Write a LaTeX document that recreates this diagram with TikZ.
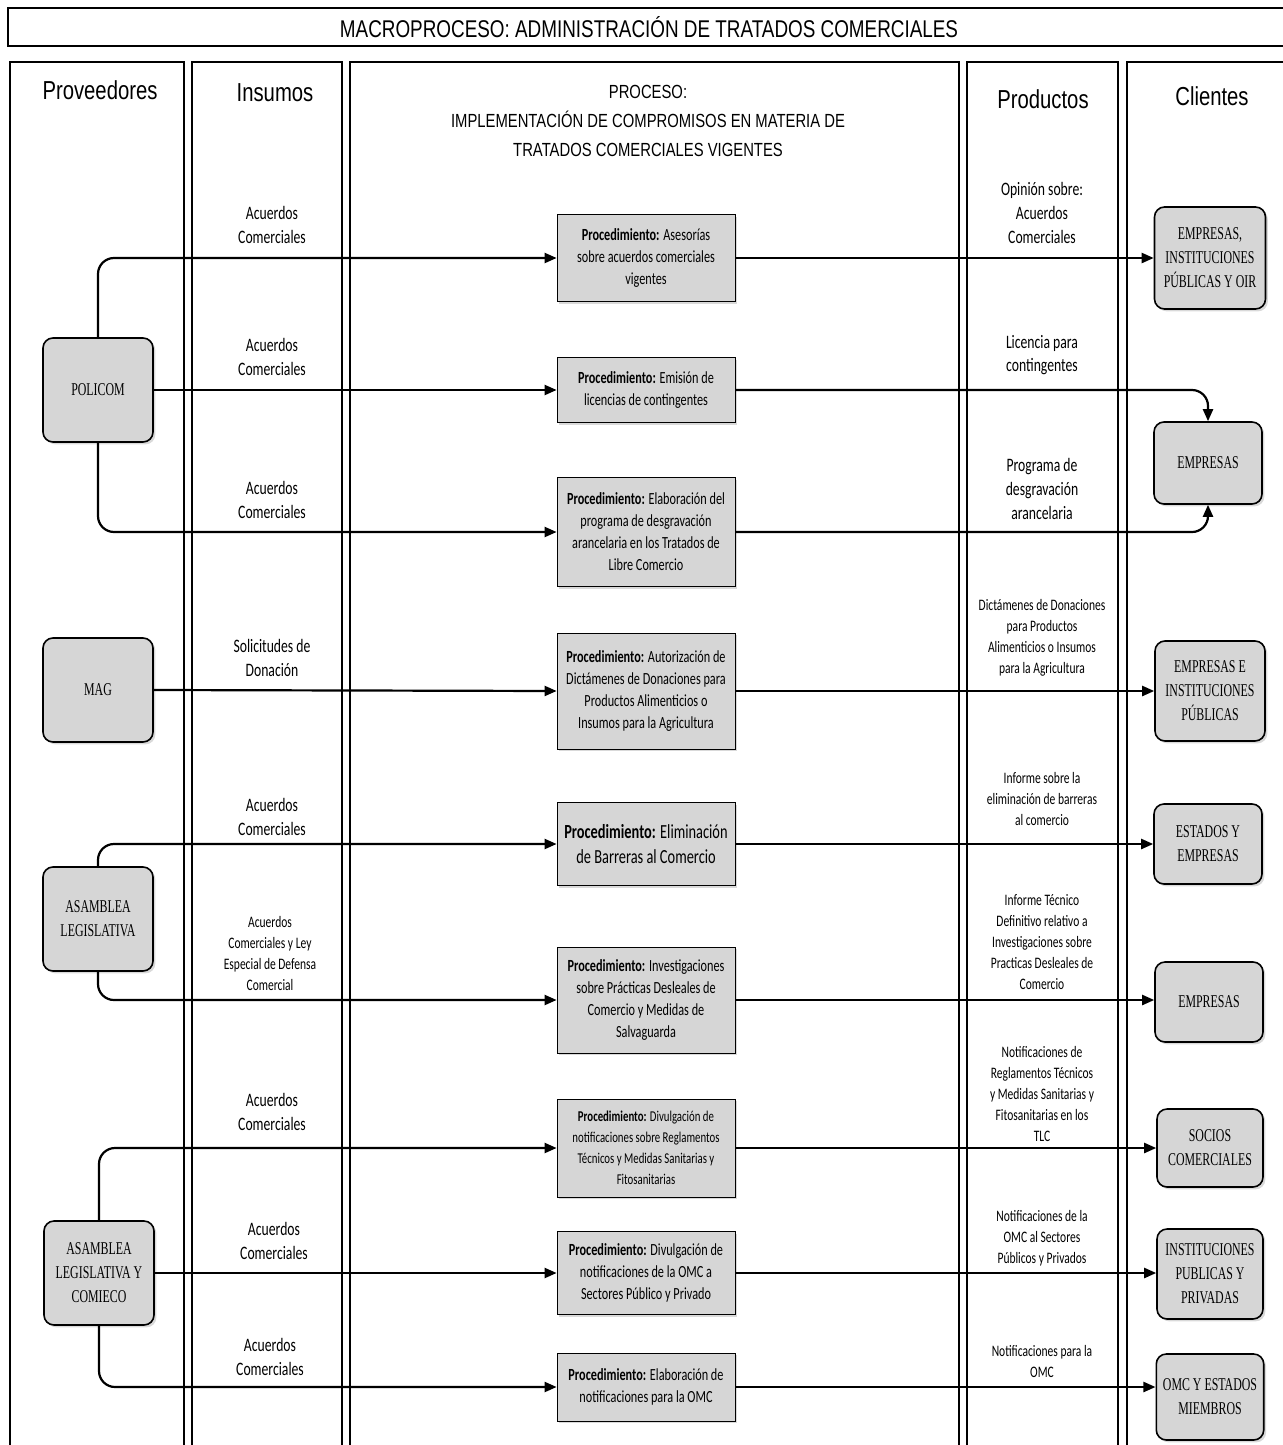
\documentclass[tikz,border=0pt]{standalone}
\usepackage{fontspec}
\usetikzlibrary{arrows.meta, positioning, shadows}
\newfontfamily\headfont[FakeStretch=0.78]{Liberation Sans}
\newfontfamily\lblfont[FakeStretch=0.72]{Carlito}
\newfontfamily\capfont[FakeStretch=0.66]{Liberation Serif}
\definecolor{BoxGray}{HTML}{D6D6D6}

\begin{document}
\begin{tikzpicture}[x=0.5pt, y=-0.5pt,
    lane/.style={line width=1pt},
    shade/.style={drop shadow={shadow xshift=1.2pt, shadow yshift=-1.2pt, opacity=0.3}},
    prov/.style={draw, thick, rounded corners=5pt, fill=BoxGray, shade,
        minimum width=55pt, minimum height=52pt, align=center,
        font=\capfont\fontsize{9}{12}\selectfont},
    proc/.style={draw, fill=BoxGray, shade, minimum width=89pt, inner sep=2pt,
        align=center, font=\lblfont\fontsize{8.5}{11}\selectfont},
    cli/.style={prov, minimum width=54pt, minimum height=41pt},
    lbl/.style={align=center, font=\lblfont\fontsize{9.5}{11.8}\selectfont},
    small/.style={align=center, font=\lblfont\fontsize{8}{10.5}\selectfont},
    head/.style={font=\headfont\fontsize{13}{15}\selectfont},
    arr/.style={-{Triangle[length=6pt, width=5pt]}, line width=1.1pt}
]
\useasboundingbox (0,0) rectangle (1282,1445);

% title and swim lanes
\node[draw, line width=1pt, minimum width=641pt, minimum height=19pt,
    font=\headfont\fontsize{12.1}{15}\selectfont] (title) at (649,27)
    {MACROPROCESO: ADMINISTRACIÓN DE TRATADOS COMERCIALES};
\foreach \l/\r in {10/184, 192/342, 350/959, 967/1118, 1127/1292}
    \draw[lane] (\l,1450) |- (\r,62) -- (\r,1450);

\node[head] (hprov) at (100,90) {Proveedores};
\node[head] (hins) at (275,93) {Insumos};
\node[align=center, font=\headfont\fontsize{9.5}{14.5}\selectfont] (hproc) at (648,121)
    {PROCESO:\\IMPLEMENTACIÓN DE COMPROMISOS EN MATERIA DE\\TRATADOS COMERCIALES VIGENTES};
\node[head] (hprod) at (1043,99) {Productos};
\node[head] (hcli) at (1212,96) {Clientes};

% proveedores
\node[prov] (policom) at (98,390) {POLICOM};
\node[prov] (mag) at (98,690) {MAG};
\node[prov] (asamblea) at (98,919) {ASAMBLEA\\LEGISLATIVA};
\node[prov] (comieco) at (99,1273) {ASAMBLEA\\LEGISLATIVA Y\\COMIECO};

% procedimientos
\node[proc, minimum height=43.5pt] (p1) at (646,258)
    {\textbf{Procedimiento:} Asesorías\\sobre acuerdos comerciales\\vigentes};
\node[proc, minimum height=32.5pt] (p2) at (646,390)
    {\textbf{Procedimiento:} Emisión de\\licencias de contingentes};
\node[proc, minimum height=54.5pt] (p3) at (646,532)
    {\textbf{Procedimiento:} Elaboración del\\programa de desgravación\\arancelaria en los Tratados de\\Libre Comercio};
\node[proc, minimum height=58pt] (p4) at (646,691)
    {\textbf{Procedimiento:} Autorización de\\Dictámenes de Donaciones para\\Productos Alimenticios o\\Insumos para la Agricultura};
\node[proc, minimum height=41.5pt, font=\lblfont\fontsize{10}{12.5}\selectfont] (p5) at (646,844)
    {\textbf{Procedimiento:} Eliminación\\de Barreras al Comercio};
\node[proc, minimum height=53pt] (p6) at (646,1000)
    {\textbf{Procedimiento:} Investigaciones\\sobre Prácticas Desleales de\\Comercio y Medidas de\\Salvaguarda};
\node[proc, minimum height=49pt, font=\lblfont\fontsize{7.5}{10.5}\selectfont] (p7) at (646,1148)
    {\textbf{Procedimiento:} Divulgación de\\notificaciones sobre Reglamentos\\Técnicos y Medidas Sanitarias y\\Fitosanitarias};
\node[proc, minimum height=41.5pt] (p8) at (646,1273)
    {\textbf{Procedimiento:} Divulgación de\\notificaciones de la OMC a\\Sectores Público y Privado};
\node[proc, minimum height=34pt] (p9) at (646,1387)
    {\textbf{Procedimiento:} Elaboración de\\notificaciones para la OMC};

% clientes
\node[cli, minimum width=55.5pt, minimum height=51pt] (c1) at (1210,258)
    {EMPRESAS,\\INSTITUCIONES\\PÚBLICAS Y OIR};
\node[cli] (c2) at (1208,463) {EMPRESAS};
\node[cli, minimum width=55pt, minimum height=50pt] (c3) at (1210,691)
    {EMPRESAS E\\INSTITUCIONES\\PÚBLICAS};
\node[cli, minimum height=40pt] (c4) at (1208,844) {ESTADOS Y\\EMPRESAS};
\node[cli, minimum height=40pt] (c5) at (1209,1002) {EMPRESAS};
\node[cli, minimum width=53pt, minimum height=39pt] (c6) at (1210,1148) {SOCIOS\\COMERCIALES};
\node[cli, minimum width=53pt, minimum height=45pt] (c7) at (1210,1274)
    {INSTITUCIONES\\PUBLICAS Y\\PRIVADAS};
\node[cli, minimum width=53pt, minimum height=43pt] (c8) at (1210,1397) {OMC Y ESTADOS\\MIEMBROS};

% insumos
\node[lbl] (i1) at (272,225) {Acuerdos\\Comerciales};
\node[lbl] (i2) at (272,357) {Acuerdos\\Comerciales};
\node[lbl] (i3) at (272,500) {Acuerdos\\Comerciales};
\node[lbl] (i4) at (272,658) {Solicitudes de\\Donación};
\node[lbl] (i5) at (272,817) {Acuerdos\\Comerciales};
\node[small] (i6) at (270,953) {Acuerdos\\Comerciales y Ley\\Especial de Defensa\\Comercial};
\node[lbl] (i7) at (272,1112) {Acuerdos\\Comerciales};
\node[lbl] (i8) at (274,1241) {Acuerdos\\Comerciales};
\node[lbl] (i9) at (270,1357) {Acuerdos\\Comerciales};

% productos
\node[lbl] (o1) at (1042,213) {Opinión sobre:\\Acuerdos\\Comerciales};
\node[lbl] (o2) at (1042,355) {Licencia para\\contingentes};
\node[lbl] (o3) at (1042,489) {Programa de\\desgravación\\arancelaria};
\node[small] (o4) at (1042,638) {Dictámenes de Donaciones\\para Productos\\Alimenticios o Insumos\\para la Agricultura};
\node[small] (o5) at (1042,799) {Informe sobre la\\eliminación de barreras\\al comercio};
\node[small] (o6) at (1042,942) {Informe Técnico\\Definitivo relativo a\\Investigaciones sobre\\Practicas Desleales de\\Comercio};
\node[small] (o7) at (1042,1094) {Notificaciones de\\Reglamentos Técnicos\\y Medidas Sanitarias y\\Fitosanitarias en los\\TLC};
\node[small] (o8) at (1042,1238) {Notificaciones de la\\OMC al Sectores\\Públicos y Privados};
\node[small] (o9) at (1042,1361) {Notificaciones para la\\OMC};

% flujos de entrada
\draw[arr, rounded corners=8pt] (policom.north) |- (p1.west);
\draw[arr] (policom.east) -- (p2.west);
\draw[arr, rounded corners=8pt] (policom.south) |- (p3.west);
\draw[arr] (mag.east) -- (p4.west);
\draw[arr, rounded corners=8pt] (asamblea.north) |- (p5.west);
\draw[arr, rounded corners=8pt] (asamblea.south) |- (p6.west);
\draw[arr, rounded corners=8pt] (comieco.north) |- (p7.west);
\draw[arr] (comieco.east) -- (p8.west);
\draw[arr, rounded corners=8pt] (comieco.south) |- (p9.west);

% flujos de salida
\draw[arr] (p1.east) -- (c1.west);
\draw[arr, rounded corners=8pt] (p2.east) -| (c2.north);
\draw[arr, rounded corners=8pt] (p3.east) -| (c2.south);
\draw[arr] (p4.east) -- (c3.west);
\draw[arr] (p5.east) -- (c4.west);
\draw[arr] (p6.east) -- (p6.east -| c5.west);
\draw[arr] (p7.east) -- (c6.west);
\draw[arr] (p8.east) -- (p8.east -| c7.west);
\draw[arr] (p9.east) -- (p9.east -| c8.west);

\end{tikzpicture}
\end{document}
